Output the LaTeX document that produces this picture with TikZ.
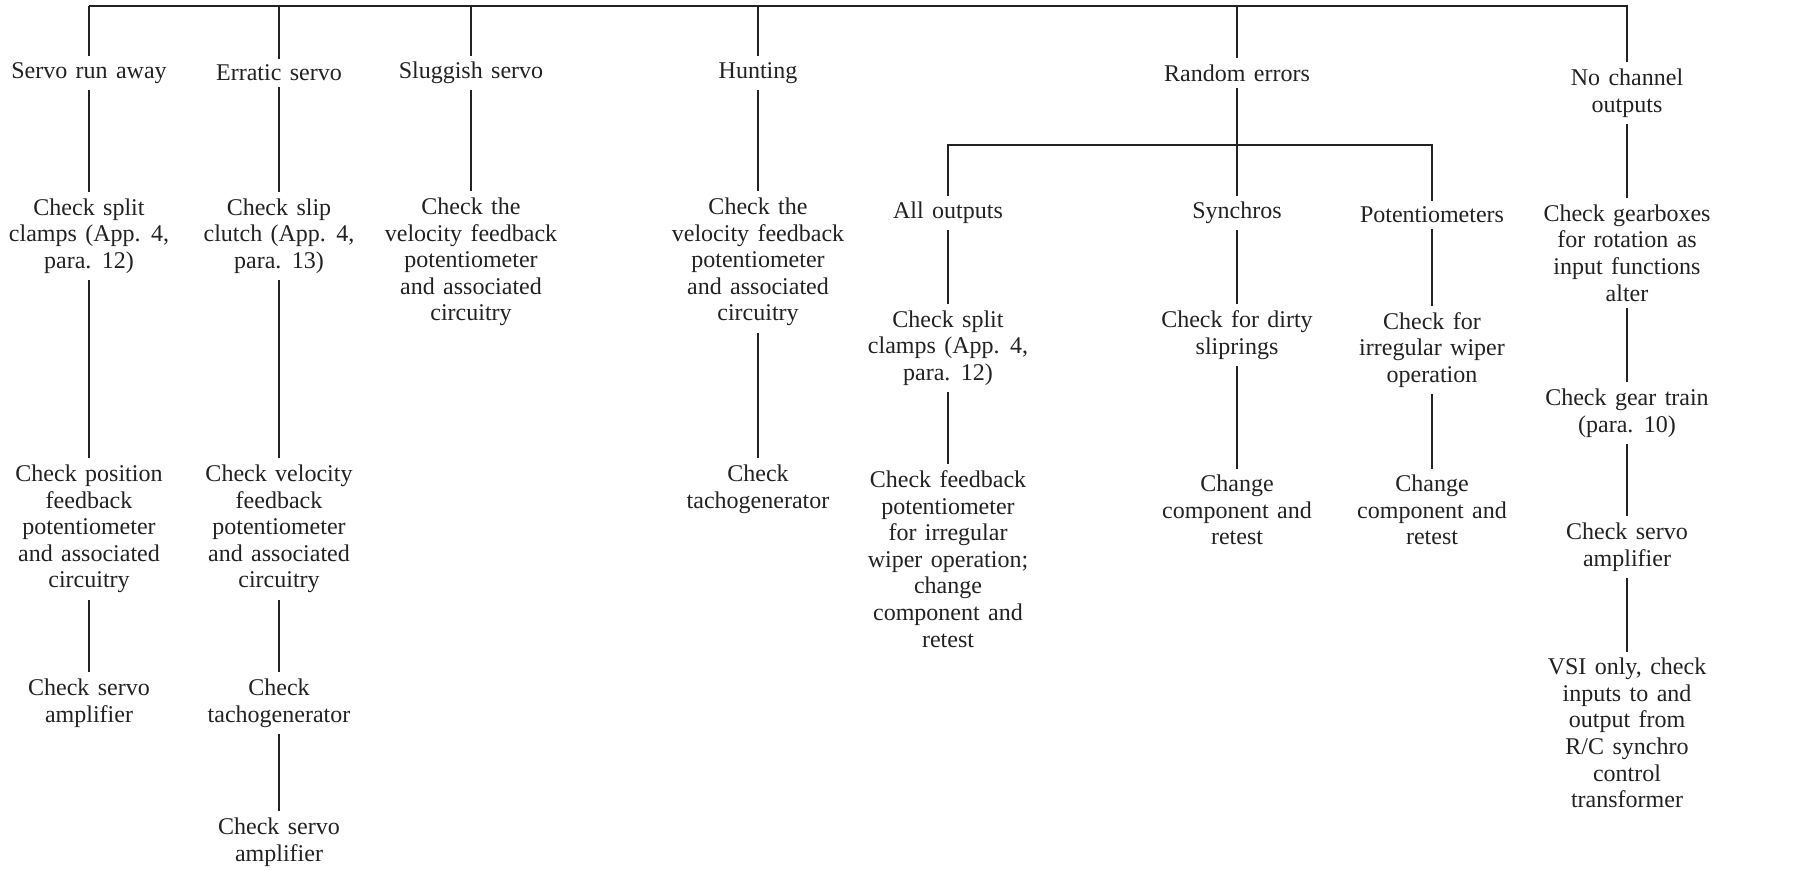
\documentclass[tikz,border=0pt]{standalone}
\usepackage{fontspec}
\setmainfont{Liberation Serif}
\definecolor{ink}{HTML}{222222}
\newcommand\diagfont{\fontsize{12}{13.3}\selectfont\spaceskip=4.2pt plus 1pt minus 0.5pt\relax}
\begin{document}
\begin{tikzpicture}[x=0.5pt,y=-0.5pt,
  txt/.style={align=center, inner sep=3pt, text=ink, font=\diagfont},
  conn/.style={draw=ink, line width=0.7pt}]
\useasboundingbox[fill=white] (0,0) rectangle (1813,869);

% bus
\coordinate (bL) at (89,6);
\coordinate (bR) at (1628,6);
\draw[conn] (bL) -- (bR);

% column 1
\node[txt] (sra) at (89,73) {Servo run away};
\node[txt] (c1a) at (89,236) {Check split\\clamps (App. 4,\\para. 12)};
\node[txt] (c1b) at (89,529) {Check position\\feedback\\potentiometer\\and associated\\circuitry};
\node[txt] (c1c) at (89,703) {Check servo\\amplifier};

% column 2
\node[txt] (es) at (279,73) {Erratic servo};
\node[txt] (c2a) at (279,236) {Check slip\\clutch (App. 4,\\para. 13)};
\node[txt] (c2b) at (279,529) {Check velocity\\feedback\\potentiometer\\and associated\\circuitry};
\node[txt] (c2c) at (279,703) {Check\\tachogenerator};
\node[txt] (c2d) at (279,842) {Check servo\\amplifier};

% column 3
\node[txt] (ss) at (471,73) {Sluggish servo};
\node[txt] (c3a) at (471,262) {Check the\\velocity feedback\\potentiometer\\and associated\\circuitry};

% column 4
\node[txt] (hu) at (758,73) {Hunting};
\node[txt] (c4a) at (758,262) {Check the\\velocity feedback\\potentiometer\\and associated\\circuitry};
\node[txt] (c4b) at (758,489) {Check\\tachogenerator};

% column 5
\node[txt] (re) at (1237,73) {Random errors};
\coordinate (j5) at (1237,145);
\node[txt] (ao) at (948,213) {All outputs};
\node[txt] (c5a) at (948,348) {Check split\\clamps (App. 4,\\para. 12)};
\node[txt] (c5b) at (948,559) {Check feedback\\potentiometer\\for irregular\\wiper operation;\\change\\component and\\retest};
\node[txt] (sy) at (1237,213) {Synchros};
\node[txt] (c5c) at (1237,335) {Check for dirty\\sliprings};
\node[txt] (c5d) at (1237,510) {Change\\component and\\retest};
\node[txt] (po) at (1432,215) {Potentiometers};
\node[txt] (c5e) at (1432,350) {Check for\\irregular wiper\\operation};
\node[txt] (c5f) at (1432,510) {Change\\component and\\retest};

% column 6
\node[txt] (nc) at (1627,93) {No channel\\outputs};
\node[txt] (c6a) at (1627,253) {Check gearboxes\\for rotation as\\input functions\\alter};
\node[txt] (c6b) at (1627,413) {Check gear train\\(para. 10)};
\node[txt] (c6c) at (1627,547) {Check servo\\amplifier};
\node[txt] (c6d) at (1627,733) {VSI only, check\\inputs to and\\output from\\R/C synchro\\control\\transformer};

% connectors from bus
\foreach \n in {sra,es,ss,hu,re,nc}
  \draw[conn] (\n.north) -- (\n.north |- bL);

% column connectors
\draw[conn] (sra) -- (c1a);
\draw[conn] (c1a) -- (c1b);
\draw[conn] (c1b) -- (c1c);
\draw[conn] (es) -- (c2a);
\draw[conn] (c2a) -- (c2b);
\draw[conn] (c2b) -- (c2c);
\draw[conn] (c2c) -- (c2d);
\draw[conn] (ss) -- (c3a);
\draw[conn] (hu) -- (c4a);
\draw[conn] (c4a) -- (c4b);
\draw[conn] (re) -- (j5);
\draw[conn] (ao.north) |- (j5) -| (po.north);
\draw[conn] (j5) -- (sy.north);
\draw[conn] (ao) -- (c5a);
\draw[conn] (c5a) -- (c5b);
\draw[conn] (sy) -- (c5c);
\draw[conn] (c5c) -- (c5d);
\draw[conn] (po) -- (c5e);
\draw[conn] (c5e) -- (c5f);
\draw[conn] (nc) -- (c6a);
\draw[conn] (c6a) -- (c6b);
\draw[conn] (c6b) -- (c6c);
\draw[conn] (c6c) -- (c6d);
\end{tikzpicture}
\end{document}
